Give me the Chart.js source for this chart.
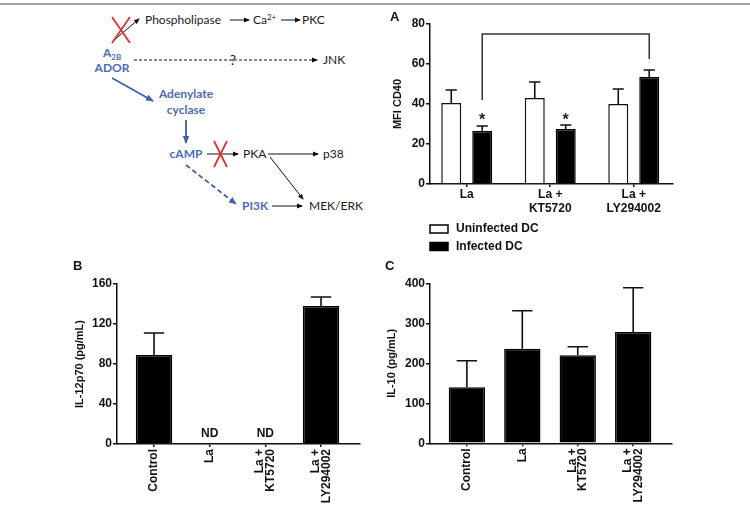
<!DOCTYPE html>
<html>
<head>
<meta charset="utf-8">
<script src="https://cdn.jsdelivr.net/npm/chart.js@4.4.1/dist/chart.umd.min.js"></script>
<style>
html, body { margin: 0; padding: 0; background: #fff; }
body { width: 750px; height: 517px; position: relative; overflow: hidden; }
#topline { position: absolute; left: 0; top: 3px; width: 750px; height: 2px; background: #a3a3a3; }
#diagram { position: absolute; left: 0; top: 0; }
canvas { position: absolute; }
</style>
</head>
<body>
<div id="topline"></div>

<!-- schema della via di segnale -->
<svg id="diagram" width="390" height="250" font-family="Lato, 'Open Sans', sans-serif" font-size="12">
  <defs>
    <marker id="ah" markerWidth="6" markerHeight="6" refX="5" refY="3" orient="auto" markerUnits="userSpaceOnUse">
      <path d="M0,0.6 L6,3 L0,5.4 z" fill="#111"/>
    </marker>
    <marker id="ahb" markerWidth="8" markerHeight="8" refX="7" refY="4" orient="auto" markerUnits="userSpaceOnUse">
      <path d="M0,0.8 L8,4 L0,7.2 z" fill="#3f5fa8"/>
    </marker>
  </defs>
  <g fill="#1a1a1a">
    <text x="145" y="24">Phospholipase</text>
    <text x="253" y="24">Ca<tspan font-size="8" dy="-4">2+</tspan></text>
    <text x="302" y="24">PKC</text>
    <text x="233" y="65" text-anchor="middle" font-size="14">?</text>
    <text x="323" y="64">JNK</text>
    <text x="243" y="158">PKA</text>
    <text x="323" y="158">p38</text>
    <text x="309" y="210">MEK/ERK</text>
  </g>
  <g fill="#4a6cb5" font-weight="bold">
    <text x="103" y="57">A<tspan font-size="8" dy="3">2B</tspan></text>
    <text x="112" y="72" text-anchor="middle">ADOR</text>
    <text x="186" y="98" text-anchor="middle">Adenylate</text>
    <text x="186" y="114" text-anchor="middle">cyclase</text>
    <text x="186" y="158" text-anchor="middle">cAMP</text>
    <text x="242" y="210">PI3K</text>
  </g>
  <g stroke="#111" stroke-width="1" fill="none">
    <line x1="230" y1="20" x2="249" y2="20" marker-end="url(#ah)"/>
    <line x1="281" y1="20" x2="300" y2="20" marker-end="url(#ah)"/>
    <line x1="113" y1="41" x2="139" y2="19" marker-end="url(#ah)"/>
    <line x1="134" y1="60" x2="317" y2="60" stroke-dasharray="3,2" marker-end="url(#ah)"/>
    <line x1="207" y1="154" x2="238" y2="154" marker-end="url(#ah)"/>
    <line x1="268" y1="154" x2="318" y2="154" marker-end="url(#ah)"/>
    <line x1="270" y1="157" x2="303" y2="199" marker-end="url(#ah)"/>
    <line x1="272" y1="206" x2="302" y2="206" marker-end="url(#ah)"/>
  </g>
  <g stroke="#3f5fa8" stroke-width="1.8" fill="none">
    <line x1="112" y1="78" x2="153" y2="101" marker-end="url(#ahb)"/>
    <line x1="186" y1="120" x2="186" y2="143" marker-end="url(#ahb)"/>
    <line x1="186" y1="165" x2="236" y2="204" stroke-dasharray="5,3" marker-end="url(#ahb)"/>
  </g>
  <g stroke="#d8352d" stroke-width="1.8" fill="none">
    <path d="M112,17 L130,43 M130,17 L112,43"/>
    <path d="M214,141 L227,167 M227,141 L214,167"/>
  </g>
</svg>

<canvas id="chartA" width="300" height="260" style="left:390px; top:0px"></canvas>
<canvas id="chartB" width="307" height="267" style="left:73px; top:250px"></canvas>
<canvas id="chartC" width="325" height="267" style="left:385px; top:250px"></canvas>

<script>
// --- Dati pannello A (MFI CD40) ---
const labelsA = [['La'], ['La +', 'KT5720'], ['La +', 'LY294002']];
const uninfected = [40.5, 43, 40];
const uninfectedErr = [6.5, 8, 7.5];
const infected = [26.5, 27.5, 53.5];
const infectedErr = [2.5, 2, 3.5];
const starsA = ['*', '*', ''];
const starLevelA = 34;
const bracketBars = [0, 2];
const bracketLevels = [42, 75, 62.5];
const ticksA = [0, 20, 40, 60, 80];

// --- Dati pannelli B e C ---
const labelsBC = ['Control', 'La', ['La +', 'KT5720'], ['La +', 'LY294002']];
const il12 = [89, null, null, 138];
const il12Err = [22, 0, 0, 9];
const ticksB = [0, 40, 80, 120, 160];
const il10 = [140, 236.5, 220, 278];
const il10Err = [66.5, 95, 21.5, 111];
const ticksC = [0, 100, 200, 300, 400];

const FONT = "'Liberation Sans', Arial, sans-serif";
Chart.defaults.font.family = FONT;
Chart.defaults.color = '#111';

function punti(valori) {
    return valori.map((v, i) => ({ x: i, y: v }));
}

// barre di errore (solo verso l'alto, con cappello)
const errorBars = {
    id: 'errorBars',
    afterDatasetsDraw(chart) {
        const ctx = chart.ctx;
        const y = chart.scales.y;
        chart.data.datasets.forEach((ds, di) => {
            if (!ds.errors) return;
            chart.getDatasetMeta(di).data.forEach((bar, i) => {
                const v = ds.data[i].y;
                if (v == null || !ds.errors[i]) return;
                const top = y.getPixelForValue(v + ds.errors[i]);
                const cap = bar.width * 0.28;
                ctx.save();
                ctx.strokeStyle = '#111';
                ctx.lineWidth = 1.6;
                ctx.beginPath();
                ctx.moveTo(bar.x, bar.y);
                ctx.lineTo(bar.x, top);
                ctx.moveTo(bar.x - cap, top);
                ctx.lineTo(bar.x + cap, top);
                ctx.stroke();
                ctx.restore();
            });
        });
    }
};

// asterischi, parentesi e legenda del pannello A
const extrasA = {
    id: 'extrasA',
    afterDatasetsDraw(chart) {
        const ctx = chart.ctx;
        const y = chart.scales.y;
        const inf = chart.getDatasetMeta(1).data;
        ctx.save();
        ctx.fillStyle = '#222';
        ctx.font = 'bold 16px ' + FONT;
        ctx.textAlign = 'center';
        ctx.textBaseline = 'alphabetic';
        starsA.forEach((s, i) => {
            if (s) ctx.fillText(s, inf[i].x, y.getPixelForValue(starLevelA) + 9);
        });

        const a = inf[bracketBars[0]].x;
        const b = inf[bracketBars[1]].x;
        ctx.strokeStyle = '#333';
        ctx.lineWidth = 1.5;
        ctx.beginPath();
        ctx.moveTo(a, y.getPixelForValue(bracketLevels[0]));
        ctx.lineTo(a, y.getPixelForValue(bracketLevels[1]));
        ctx.lineTo(b, y.getPixelForValue(bracketLevels[1]));
        ctx.lineTo(b, y.getPixelForValue(bracketLevels[2]));
        ctx.stroke();

        // legenda verticale
        ctx.font = 'bold 12px ' + FONT;
        ctx.textAlign = 'left';
        ctx.textBaseline = 'middle';
        chart.data.datasets.forEach((ds, i) => {
            const yy = 229 + i * 17.5;
            ctx.fillStyle = ds.backgroundColor;
            ctx.fillRect(40, yy - 4, 18, 8);
            ctx.strokeStyle = '#000';
            ctx.lineWidth = 1.5;
            ctx.strokeRect(40, yy - 4, 18, 8);
            ctx.fillStyle = '#111';
            ctx.fillText(ds.label, 66, yy);
        });
        ctx.restore();
    }
};

// "ND" sopra l'asse dove non c'e' barra
const notDetected = {
    id: 'notDetected',
    afterDatasetsDraw(chart) {
        const ctx = chart.ctx;
        const x = chart.scales.x;
        const y = chart.scales.y;
        ctx.save();
        ctx.fillStyle = '#111';
        ctx.font = 'bold 12px ' + FONT;
        ctx.textAlign = 'center';
        ctx.textBaseline = 'middle';
        chart.data.datasets[0].data.forEach((p, i) => {
            if (p.y == null) ctx.fillText('ND', x.getPixelForValue(i), y.getPixelForValue(0) - 10);
        });
        ctx.restore();
    }
};

// etichette su due righe ruotate: centrate sul tick
const centraRighe = {
    id: 'centraRighe',
    beforeDraw(chart) {
        const x = chart.scales.x;
        const lh = x.options.ticks.font.size * x.options.ticks.font.lineHeight;
        x.getLabelItems().forEach(it => {
            if (Array.isArray(it.label) && it.label.length > 1) {
                it.options.translation[0] -= (it.label.length - 1) * lh / 2;
            }
        });
    }
};

function assi(cfg) {
    return {
        x: {
            type: 'linear',
            offset: false,
            min: cfg.xmin,
            max: cfg.xmax,
            afterBuildTicks: s => { s.ticks = cfg.labels.map((l, i) => ({ value: i })); },
            afterFit: s => { s.height = cfg.xHeight; },
            ticks: {
                callback: v => cfg.labels[v],
                color: '#111',
                font: { size: 12, weight: 'bold', lineHeight: cfg.lineHeight },
                padding: cfg.xPad,
                autoSkip: false,
                minRotation: cfg.rot,
                maxRotation: cfg.rot
            },
            grid: { offset: false, drawOnChartArea: false, tickLength: 3, color: '#111', lineWidth: 1.5 },
            border: { color: '#111', width: 1.5 }
        },
        y: {
            min: cfg.ticks[0],
            max: cfg.ticks[cfg.ticks.length - 1],
            afterBuildTicks: s => { s.ticks = cfg.ticks.map(v => ({ value: v })); },
            afterFit: s => { s.width = cfg.yWidth; },
            title: {
                display: true,
                text: cfg.yTitle,
                color: '#111',
                font: { size: 11, weight: 'bold', lineHeight: 1.2 },
                padding: { top: cfg.titlePad, bottom: 0 }
            },
            ticks: { color: '#111', font: { size: 12, weight: 'bold' }, padding: 1 },
            grid: { drawOnChartArea: false, tickLength: 4, color: '#111', lineWidth: 1.5 },
            border: { color: '#111', width: 1.5 }
        }
    };
}

function titolo(lettera, top, bottom) {
    return {
        display: true,
        text: lettera,
        align: 'start',
        color: '#111',
        font: { size: 13, weight: 'bold', lineHeight: 1 },
        padding: { top: top, bottom: bottom }
    };
}

// Pannello A
new Chart(document.getElementById('chartA'), {
    type: 'bar',
    data: {
        datasets: [
            { label: 'Uninfected DC', data: punti(uninfected), errors: uninfectedErr,
              backgroundColor: '#ffffff', borderColor: '#111', borderWidth: 1.5 },
            { label: 'Infected DC', data: punti(infected), errors: infectedErr,
              backgroundColor: '#000000', borderColor: '#000', borderWidth: 1.5 }
        ]
    },
    options: {
        responsive: false,
        animation: false,
        categoryPercentage: 0.742,
        barPercentage: 0.645,
        layout: { padding: { left: 0, right: 17, top: 0, bottom: 0 } },
        plugins: { legend: { display: false }, tooltip: { enabled: false }, title: titolo('A', 11, 0) },
        scales: assi({ labels: labelsA, xmin: -0.44, xmax: 2.47, xHeight: 76, lineHeight: 1.2, xPad: 0, rot: 0,
                       ticks: ticksA, yWidth: 40, yTitle: 'MFI CD40', titlePad: 1.4 })
    },
    plugins: [errorBars, extrasA]
});

// Pannello B
new Chart(document.getElementById('chartB'), {
    type: 'bar',
    data: {
        datasets: [
            { label: 'IL-12p70', data: punti(il12), errors: il12Err,
              backgroundColor: '#000000', borderColor: '#000', borderWidth: 1.5 }
        ]
    },
    options: {
        responsive: false,
        animation: false,
        categoryPercentage: 0.655,
        barPercentage: 1,
        layout: { padding: { left: 0, right: 20, top: 0, bottom: 0 } },
        plugins: { legend: { display: false }, tooltip: { enabled: false }, title: titolo('B', 10, 11) },
        scales: assi({ labels: labelsBC, xmin: -0.665, xmax: 3.7, xHeight: 73, lineHeight: 0.9, xPad: 2, rot: 90,
                       ticks: ticksB, yWidth: 44, yTitle: 'IL-12p70 (pg/mL)', titlePad: 0.4 })
    },
    plugins: [errorBars, notDetected, centraRighe]
});

// Pannello C
new Chart(document.getElementById('chartC'), {
    type: 'bar',
    data: {
        datasets: [
            { label: 'IL-10', data: punti(il10), errors: il10Err,
              backgroundColor: '#000000', borderColor: '#000', borderWidth: 1.5 }
        ]
    },
    options: {
        responsive: false,
        animation: false,
        categoryPercentage: 0.655,
        barPercentage: 1,
        layout: { padding: { left: 0, right: 38, top: 0, bottom: 0 } },
        plugins: { legend: { display: false }, tooltip: { enabled: false }, title: titolo('C', 10, 10.3) },
        scales: assi({ labels: labelsBC, xmin: -0.665, xmax: 3.7, xHeight: 73.7, lineHeight: 0.9, xPad: 2, rot: 90,
                       ticks: ticksC, yWidth: 45, yTitle: 'IL-10 (pg/mL)', titlePad: 0 })
    },
    plugins: [errorBars, centraRighe]
});
</script>
</body>
</html>
